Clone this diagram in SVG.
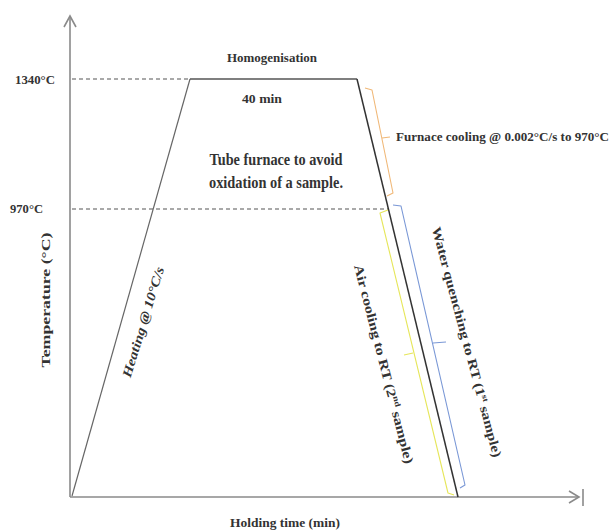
<svg xmlns="http://www.w3.org/2000/svg" width="611" height="532" viewBox="0 0 611 532">
<style>
.t{font-family:"Liberation Serif","Times New Roman",serif;font-weight:bold;fill:#333}
.ax{stroke:#8a8a8a;stroke-width:1.6;fill:none}
.dash{stroke:#555;stroke-width:1.1;stroke-dasharray:4 3;fill:none}
.br{fill:none;stroke-width:1.1;stroke-linejoin:round}
</style>
<rect width="611" height="532" fill="#fff"/>
<g id="axes">
<line class="ax" x1="70" y1="16" x2="70" y2="497"/>
<polyline class="ax" points="64,27 70,16 76,27"/>
<line class="ax" x1="70" y1="497" x2="579" y2="497"/>
<polyline class="ax" points="569,491 579,497 569,503"/>
<line class="ax" x1="583" y1="489" x2="583" y2="506"/>
</g>
<g id="guides">
<line class="dash" x1="72" y1="79" x2="190" y2="79"/>
<line class="dash" x1="72" y1="209" x2="389" y2="209"/>
</g>
<g id="profile">
<line x1="72" y1="496" x2="190" y2="79" stroke="#666" stroke-width="1.2"/>
<line x1="190" y1="79" x2="357" y2="79" stroke="#555" stroke-width="1.4"/>
<line x1="357" y1="79" x2="458" y2="497" stroke="#333" stroke-width="1.5"/>
</g>
<g id="brackets">
<path class="br" stroke="#f0b878" d="M365,88 L372,90 L393,193 L387,196 M382,138 L390,137"/>
<path class="br" stroke="#e6e65a" d="M388,210 L380,213 L448,493 L454,495 M413,353 L404,355"/>
<path class="br" stroke="#7a98d6" d="M393,205 L401,206 L465,485 L460,488 M433,343 L446,342"/>
</g>
<g id="labels">
<text class="t" x="272" y="62" font-size="13" text-anchor="middle" textLength="90" lengthAdjust="spacingAndGlyphs">Homogenisation</text>
<text class="t" x="262" y="103" font-size="13" text-anchor="middle" textLength="40" lengthAdjust="spacingAndGlyphs">40 min</text>
<text class="t" x="276" y="165" font-size="16" text-anchor="middle" textLength="133" lengthAdjust="spacingAndGlyphs">Tube furnace to avoid</text>
<text class="t" x="276" y="188" font-size="16" text-anchor="middle" textLength="134" lengthAdjust="spacingAndGlyphs">oxidation of a sample.</text>
<text class="t" x="396" y="141" font-size="13" textLength="213" lengthAdjust="spacingAndGlyphs">Furnace cooling @ 0.002°C/s to 970°C</text>
<text class="t" x="15" y="84" font-size="12" textLength="40" lengthAdjust="spacingAndGlyphs">1340°C</text>
<text class="t" x="10" y="213" font-size="12" textLength="33" lengthAdjust="spacingAndGlyphs">970°C</text>
<text class="t" font-size="13" text-anchor="middle" transform="translate(50,300) rotate(-90)" textLength="135" lengthAdjust="spacingAndGlyphs">Temperature (°C)</text>
<text class="t" font-size="13" font-style="italic" text-anchor="middle" dy="0.35em" transform="translate(143,322) rotate(-73)" textLength="115" lengthAdjust="spacingAndGlyphs">Heating @ 10°C/s</text>
<text class="t" font-size="13" text-anchor="middle" dy="0.35em" transform="translate(384,364) rotate(75.5)" textLength="205" lengthAdjust="spacingAndGlyphs">Air cooling to RT (2<tspan font-size="8" dy="-5">nd</tspan><tspan dy="5"> sample)</tspan></text>
<text class="t" font-size="13" text-anchor="middle" dy="0.35em" transform="translate(467,342) rotate(75)" textLength="238" lengthAdjust="spacingAndGlyphs">Water quenching to RT (1<tspan font-size="8" dy="-5">st</tspan><tspan dy="5"> sample)</tspan></text>
<text class="t" x="285" y="527" font-size="13" text-anchor="middle" textLength="110" lengthAdjust="spacingAndGlyphs">Holding time (min)</text>
</g>
</svg>
